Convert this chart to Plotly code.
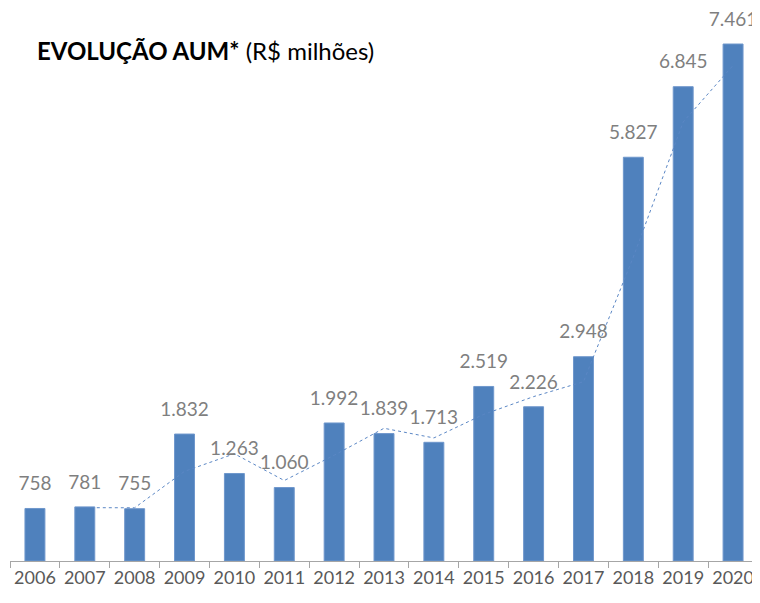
import plotly.graph_objects as go

years = ["2006", "2007", "2008", "2009", "2010", "2011", "2012", "2013",
         "2014", "2015", "2016", "2017", "2018", "2019", "2020"]
aum = [758, 781, 755, 1832, 1263, 1060, 1992, 1839, 1713, 2519, 2226, 2948, 5827, 6845, 7461]
# 2-period moving average trendline (Excel style), starting at 2007
trend_years = years[1:]
trend_vals = [769.5, 768, 1293.5, 1547.5, 1161.5, 1526, 1915.5, 1776, 2116, 2372.5, 2587, 4387.5, 6336, 7153]

FONT = "Lato"
fig = go.Figure()
fig.add_trace(go.Bar(
    x=years, y=aum, marker=dict(color="#4f81bd", line=dict(color="#6f97cc", width=1)),
    width=0.4, showlegend=False, hoverinfo="skip"))
fig.add_trace(go.Scatter(
    x=trend_years, y=trend_vals, mode="lines",
    line=dict(color="#5b87c5", width=1, dash="dot"), showlegend=False, hoverinfo="skip"))
fig.add_trace(go.Scatter(
    x=years, y=aum, mode="markers+text", texttemplate="%{y:,.0f}", textposition="top center",
    marker=dict(size=20, opacity=0), cliponaxis=False,
    textfont=dict(family=FONT, size=19, color="#7f7f7f"), showlegend=False, hoverinfo="skip"))

fig.update_layout(
    width=752, height=595,
    margin=dict(l=2, r=2, t=2, b=42, autoexpand=False),
    paper_bgcolor="white", plot_bgcolor="white",
    separators=",.",
    font=dict(family=FONT),
    annotations=[dict(
        text="<b>EVOLUÇÃO AUM*</b> (R$ milhões)", xref="paper", yref="paper",
        x=0.033, y=0.927, xanchor="left", yanchor="middle", showarrow=False,
        font=dict(family=FONT, size=24, color="#000000"))],
)
fig.update_xaxes(
    type="category", range=[-0.5, 14.5], tickson="boundaries", ticks="outside", ticklen=6, tickangle=0,
    tickcolor="#a6a6a6", showline=True, linecolor="#a6a6a6", linewidth=1,
    automargin=False,
    tickfont=dict(family=FONT, size=18, color="#595959"), showgrid=False)
fig.update_yaxes(range=[0, 7952], visible=False, showgrid=False, automargin=False)

fig.write_html("out.html")
